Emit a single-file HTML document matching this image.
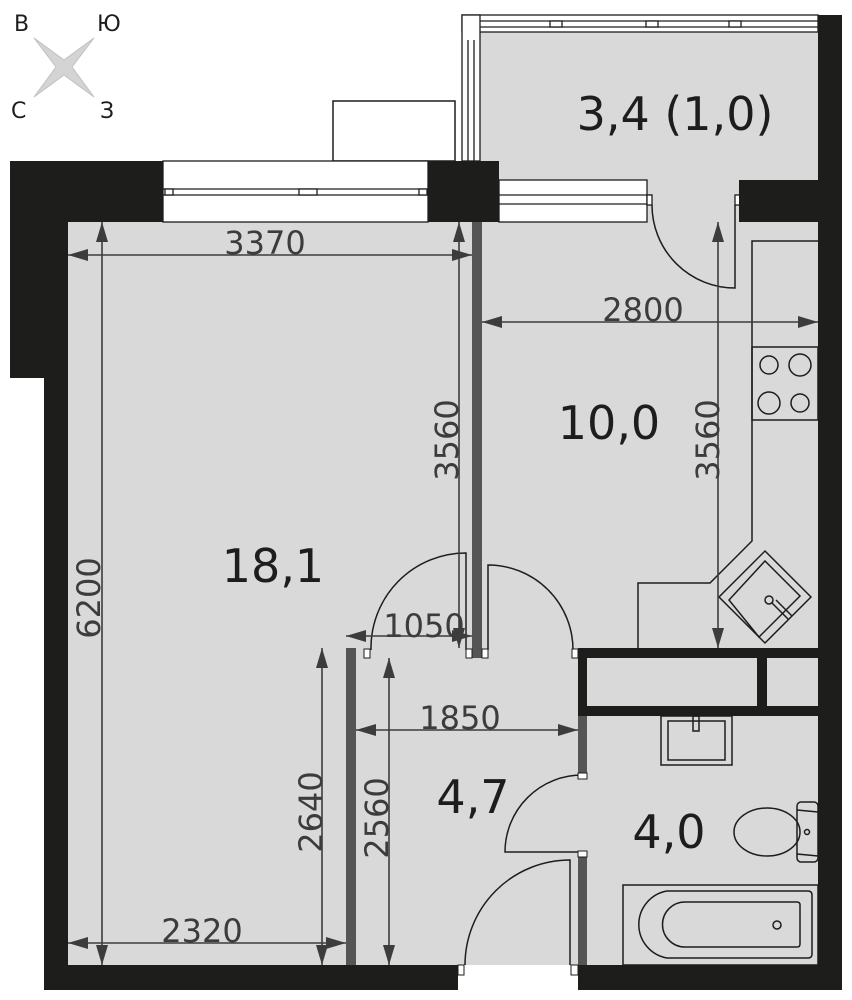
<!DOCTYPE html>
<html><head><meta charset="utf-8"><style>
html,body{margin:0;padding:0;background:#fff;}
svg{display:block;}
.d{font-family:"DejaVu Sans","Liberation Sans",sans-serif;font-size:32px;fill:#3c3c3c;}
.r{font-family:"DejaVu Sans","Liberation Sans",sans-serif;font-size:46px;fill:#1d1d1b;}
.c{font-family:"DejaVu Sans","Liberation Sans",sans-serif;font-size:22px;fill:#1d1d1b;}
</style></head><body>
<svg width="852" height="1000" viewBox="0 0 852 1000" xmlns="http://www.w3.org/2000/svg">
<defs>
<marker id="a" viewBox="0 0 20 12" refX="20" refY="6" markerWidth="20" markerHeight="12" markerUnits="userSpaceOnUse" orient="auto-start-reverse"><path d="M0,0 L20,6 L0,12 Z" fill="#3c3c3c"/></marker>
</defs>
<g fill="#d9d9d9">
<rect x="68" y="222" width="410" height="743"/>
<rect x="478" y="222" width="340" height="743"/>
<rect x="480" y="32" width="338" height="190"/>
</g>
<path d="M34,38 L64,60 L94,38 L72,67 L94,97 L64,75 L34,97 L56,67 Z" fill="#d4d4d4" stroke="#c0c0c0" stroke-width="1"/>
<text class="c" x="14" y="31">В</text><text class="c" x="97" y="31">Ю</text>
<text class="c" x="11" y="118">С</text><text class="c" x="100" y="118">З</text>
<rect x="333" y="101" width="122" height="60" fill="#fff" stroke="#1d1d1b" stroke-width="1.5"/>
<g fill="#fff" stroke="#1d1d1b" stroke-width="1.3">
<rect x="462" y="15" width="356" height="17"/>
<line x1="480" y1="21" x2="818" y2="21"/><line x1="480" y1="27" x2="818" y2="27"/>
<rect x="462" y="15" width="18" height="146"/>
<line x1="468" y1="40" x2="468" y2="161"/><line x1="474" y1="40" x2="474" y2="161"/>
<rect x="550" y="21" width="12" height="6"/><rect x="646" y="21" width="12" height="6"/><rect x="729" y="21" width="12" height="6"/>
<rect x="163" y="161" width="265" height="61"/>
<line x1="163" y1="189" x2="428" y2="189"/><line x1="163" y1="195" x2="428" y2="195"/>
<rect x="299" y="189" width="18" height="6"/><rect x="165" y="189" width="8" height="6"/><rect x="419" y="189" width="8" height="6"/>
<rect x="499" y="180" width="148" height="42"/>
<line x1="499" y1="195" x2="652" y2="195"/><line x1="499" y1="204" x2="652" y2="204"/>
<rect x="647" y="195" width="5" height="10"/><rect x="735" y="195" width="5" height="10"/>
</g>
<g fill="#1d1d1b">
<rect x="10" y="161" width="153" height="61"/>
<rect x="10" y="222" width="58" height="156"/>
<rect x="44" y="378" width="24" height="612"/>
<rect x="44" y="965" width="414" height="25"/>
<rect x="578" y="965" width="264" height="25"/>
<rect x="818" y="15" width="24" height="975"/>
<rect x="428" y="161" width="71" height="61"/>
<rect x="739" y="180" width="103" height="42"/>
<rect x="578" y="648" width="240" height="10"/>
<rect x="578" y="648" width="9" height="68"/>
<rect x="578" y="706" width="240" height="10"/>
<rect x="757" y="658" width="10" height="48"/>
</g>
<g fill="#555">
<rect x="472" y="222" width="10" height="436"/>
<rect x="346" y="648" width="10" height="317"/>
<rect x="578" y="716" width="9" height="59"/>
<rect x="578" y="853" width="9" height="112"/>
</g>
<g fill="none" stroke="#1d1d1b" stroke-width="1.5">
<path d="M652,205 A83,83 0 0 0 735,288 L735,205"/>
<path d="M371,650 A95,95 0 0 1 466,553 L466,650"/>
<path d="M573,650 A85,85 0 0 0 488,565 L488,650"/>
<path d="M582,775 A77,77 0 0 0 505,852 L582,852"/>
<path d="M465,965 A105,105 0 0 1 570,860 L570,965"/>
</g>
<g fill="#fff" stroke="#1d1d1b" stroke-width="1">
<rect x="364" y="649" width="6" height="9"/><rect x="466" y="649" width="6" height="9"/><rect x="482" y="649" width="6" height="9"/><rect x="572" y="649" width="6" height="9"/>
<rect x="578" y="773" width="9" height="6"/><rect x="578" y="851" width="9" height="6"/>
<rect x="458" y="965" width="6" height="10"/><rect x="571" y="965" width="7" height="10"/>
</g>
<g fill="none" stroke="#1d1d1b" stroke-width="1.5">
<path d="M818,241 L752,241 L752,541 L710,583 L638,583 L638,648"/>
<rect x="752" y="347" width="66" height="73"/>
<circle cx="769" cy="365" r="9"/><circle cx="800" cy="365" r="11"/>
<circle cx="769" cy="403" r="11"/><circle cx="800" cy="403" r="9"/>
<path d="M765,551 L811,597 L765,643 L719,597 Z"/>
<path d="M765,561 L800,596 L759,637 L729,600 Z"/>
<circle cx="769" cy="600" r="4"/>
<line x1="772" y1="603" x2="788" y2="619"/><line x1="776" y1="600" x2="792" y2="616"/>
<rect x="661" y="716" width="71" height="49"/>
<rect x="668" y="721" width="57" height="39"/>
<rect x="693" y="716" width="6" height="15"/>
<ellipse cx="767" cy="832" rx="33" ry="24"/>
<path d="M797,810 L818,812 M797,854 L818,856"/>
<rect x="797" y="802" width="21" height="60" rx="4"/>
<circle cx="807" cy="832" r="2.5"/>
<rect x="623" y="885" width="195" height="80"/>
<path d="M667,891 L808,891 Q812,891 812,895 L812,954 Q812,958 808,958 L667,958 A34,34 0 0 1 667,891 Z"/>
<path d="M685,902 L797,902 Q800,902 800,905 L800,944 Q800,947 797,947 L685,947 A22.5,22.5 0 0 1 685,902 Z"/>
<circle cx="777" cy="925" r="4"/>
</g>
<g stroke="#3c3c3c" stroke-width="1.6" fill="none">
<line x1="68" y1="255" x2="472" y2="255" marker-start="url(#a)" marker-end="url(#a)"/>
<line x1="102" y1="222" x2="102" y2="965" marker-start="url(#a)" marker-end="url(#a)"/>
<line x1="459" y1="222" x2="459" y2="648" marker-start="url(#a)" marker-end="url(#a)"/>
<line x1="482" y1="322" x2="818" y2="322" marker-start="url(#a)" marker-end="url(#a)"/>
<line x1="718" y1="222" x2="718" y2="648" marker-start="url(#a)" marker-end="url(#a)"/>
<line x1="346" y1="636" x2="472" y2="636" marker-start="url(#a)" marker-end="url(#a)"/>
<line x1="356" y1="730" x2="578" y2="730" marker-start="url(#a)" marker-end="url(#a)"/>
<line x1="322" y1="648" x2="322" y2="965" marker-start="url(#a)" marker-end="url(#a)"/>
<line x1="389" y1="658" x2="389" y2="965" marker-start="url(#a)" marker-end="url(#a)"/>
<line x1="68" y1="943" x2="346" y2="943" marker-start="url(#a)" marker-end="url(#a)"/>
</g>
<g class="d" text-anchor="middle">
<text x="265" y="254">3370</text>
<text x="643" y="321">2800</text>
<text x="424" y="637">1050</text>
<text x="460" y="729">1850</text>
<text x="202" y="942">2320</text>
<text transform="translate(100,598) rotate(-90)">6200</text>
<text transform="translate(458,440) rotate(-90)">3560</text>
<text transform="translate(719,440) rotate(-90)">3560</text>
<text transform="translate(322,812) rotate(-90)">2640</text>
<text transform="translate(388,818) rotate(-90)">2560</text>
</g>
<g class="r" text-anchor="middle">
<text x="675" y="130">3,4 (1,0)</text>
<text x="609" y="439">10,0</text>
<text x="273" y="582">18,1</text>
<text x="473" y="813">4,7</text>
<text x="669" y="848">4,0</text>
</g>
</svg>
</body></html>
